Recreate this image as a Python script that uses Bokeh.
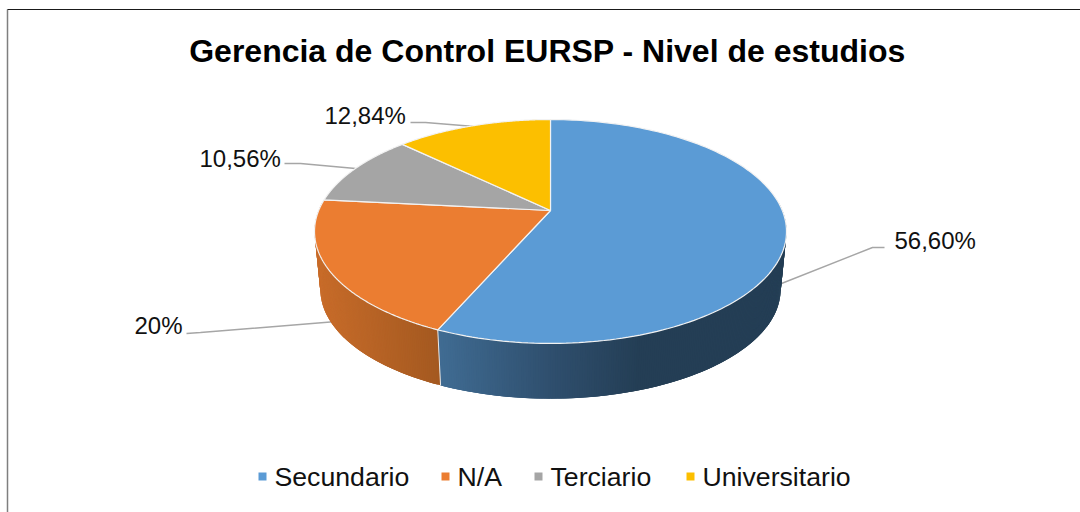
import numpy as np
from bokeh.plotting import figure
from bokeh.models import Range1d
from bokeh.core.properties import value
from bokeh.embed import file_html
from bokeh.resources import INLINE

title_text = "Gerencia de Control EURSP - Nivel de estudios"
categories = ["Secundario", "N/A", "Terciario", "Universitario"]
shares = [56.60, 20.0, 10.56, 12.84]
share_labels = ["56,60%", "20%", "10,56%", "12,84%"]
colors = ["#5B9BD5", "#EB7D31", "#A5A5A5", "#FCBF00"]

W, H = 1080, 512
FONT = value("Liberation Sans")

p = figure(width=W, height=H, x_range=Range1d(0, W), y_range=Range1d(H, 0),
           output_backend="svg", toolbar_location=None, min_border=0,
           x_axis_type=None, y_axis_type=None, outline_line_color=None,
           background_fill_color="white", border_fill_color="white")
p.grid.visible = False

# perspective projection of the pie disc
CX, CY, RX, B, K = 550.0, 210.0, 231.8, 108.0, 0.1875
DEPTH, SHRINK, MID_Y = 58.0, 0.975, 231.0


def top(theta):
    u, v = np.sin(theta), np.cos(theta)
    w = 1 + K * v
    return CX + RX * u / w, CY - B * v / w


def bottom(theta):
    x, y = top(theta)
    return CX + (x - CX) * SHRINK, MID_Y + (y - MID_Y) * SHRINK + DEPTH


def lerp(stops, x):
    xs = [s[0] for s in stops]
    rgb = [np.interp(x, xs, [int(s[1][i:i + 2], 16) for s in stops]) for i in (1, 3, 5)]
    return "#%02x%02x%02x" % tuple(int(round(c)) for c in rgb)


# frame
p.line([7, 7], [9, 512], line_color="#7f7f7f", line_width=1.5)
p.line([7, W], [9, 9], line_color="#1a1a1a", line_width=1.2)

# leader lines
leaders = [
    ([781, 872, 884], [283, 247, 247]),
    ([186, 200, 336], [333, 332, 321]),
    ([284, 300, 355], [163, 163, 168]),
    ([410, 425, 474], [122, 122, 126]),
]
for lx, ly in leaders:
    p.line(lx, ly, line_color="#A6A6A6", line_width=1.4)

# slice angles, clockwise from twelve o'clock
edges = np.radians(np.cumsum([0] + shares) * 3.6)

# side walls: each strip overlaps its neighbour so that no seams appear
wall_stops = {
    0: [(437, "#406C93"), (550, "#2F4F6E"), (640, "#243E55"), (790, "#243E55")],
    1: [(314, "#C86C2A"), (437, "#A45920")],
}
STEP = np.radians(0.5)
for i in (0, 1):
    a = np.append(np.arange(edges[i], edges[i + 1], STEP), edges[i + 1])
    for t0, t1 in zip(a[:-1], a[1:]):
        if np.cos((t0 + t1) / 2) > 0.1:
            continue
        t2 = min(t1 + 2 * STEP, edges[i + 1])
        x0, y0 = top(t0)
        x1, y1 = top(t2)
        x2, y2 = bottom(t2)
        x3, y3 = bottom(t0)
        c = lerp(wall_stops[i], (top(t0)[0] + top(t1)[0]) / 2)
        p.patch([x0, x1, x2, x3], [y0, y1, y2, y3], fill_color=c, line_color=None)

# divider between the two visible walls
tb = edges[1]
p.line([top(tb)[0], bottom(tb)[0]], [top(tb)[1], bottom(tb)[1]], line_color="#E8E8E8", line_width=1)

# top face
for i, c in enumerate(colors):
    a = np.linspace(edges[i], edges[i + 1], 160)
    x, y = top(a)
    p.patch(np.r_[CX, x], np.r_[CY, y], fill_color=c, line_color="#F2F2F2", line_width=1.2)

# slice labels
label_pos = [(894, 240), (134, 325), (199, 158), (324, 115)]
for s, (x, y) in zip(share_labels, label_pos):
    p.text([x], [y], text=[s], text_font=FONT, text_font_size="24px", text_color="#111111",
           text_baseline="middle", text_align="left")

# title
p.text([547], [50], text=[title_text], text_font=FONT, text_font_size="32px", text_font_style="bold",
       text_color="#000000", text_align="center", text_baseline="middle")

# legend
legend_x = [274, 457, 550, 702]
for name, c, x in zip(categories, colors, legend_x):
    p.quad(left=[x - 16], right=[x - 8], top=[472], bottom=[480], fill_color=c, line_color=None)
    p.text([x], [476], text=[name], text_font=FONT, text_font_size="26.67px", text_color="#111111",
           text_align="left", text_baseline="middle")

open("out.html", "w").write(file_html(p, INLINE))
